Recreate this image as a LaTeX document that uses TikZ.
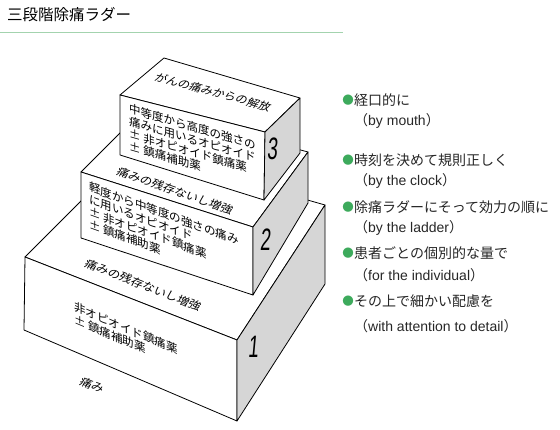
\documentclass[tikz,border=0pt]{standalone}
\usepackage{fontspec}
\newfontfamily\jpfont{Noto Sans CJK JP}
\newfontfamily\enfont{Liberation Sans}
\definecolor{sidegray}{HTML}{D6D6D6}
\definecolor{rulegreen}{HTML}{A3D3AE}
\definecolor{dotgreen}{HTML}{3DAA5C}

\begin{document}
\begin{tikzpicture}[x=1pt,y=-1pt]
\tikzstyle{face}=[draw=black,line width=0.8pt,line join=round,fill=white]
\tikzstyle{side}=[face,fill=sidegray]
\tikzstyle{front}=[font=\jpfont\fontsize{11.5}{12.5}\selectfont,align=left,inner sep=0pt,anchor=north west,transform shape,yslant=-#1]
\tikzstyle{lid}=[font=\jpfont\fontsize{11.5}{12}\selectfont,inner sep=0pt,transform shape,cm={1,-#1,0.45,0.85,(0,0)}]
\tikzstyle{num}=[font=\enfont\fontsize{31}{31}\selectfont,inner sep=0pt,transform shape,xscale=0.6,xslant=0.15]
\tikzstyle{dot}=[text=dotgreen,font=\jpfont\fontsize{11.5}{11.5}\selectfont,inner sep=0pt]
\tikzstyle{item}=[font=\jpfont\fontsize{14}{14}\selectfont,inner sep=0pt,anchor=west,text=black!85]
\tikzstyle{itemen}=[font=\enfont\fontsize{14}{14}\selectfont,inner sep=0pt,anchor=west,text=black!85]
\useasboundingbox (0,0) rectangle (560,430);

% title
\node[font=\jpfont\fontsize{15.5}{15.5}\selectfont,anchor=west,inner sep=0pt] (title) at (7,15) {三段階除痛ラダー};
\coordinate (rule-l) at (0,33);
\coordinate (rule-r) at (343,33);
\draw[rulegreen,line width=1pt] (rule-l) -- (rule-r);

% step 1
\coordinate (one-flt) at (25,257);
\coordinate (one-flb) at (24,330);
\coordinate (one-frb) at (237,421);
\coordinate (one-frt) at (237,340);
\coordinate (one-brt) at (325,205);
\coordinate (one-brb) at (325,284);
\coordinate (one-blt) at (132,150);
\draw[face] (one-flt) -- (one-frt) -- (one-brt) -- (one-blt) -- cycle;
\draw[face] (one-flt) -- (one-frt) -- (one-frb) -- (one-flb) -- cycle;
\draw[side] (one-frt) -- (one-brt) -- (one-brb) -- (one-frb) -- cycle;

% step 2
\coordinate (two-flt) at (81,172);
\coordinate (two-flb) at (81,238);
\coordinate (two-frb) at (253,295);
\coordinate (two-frt) at (253,227);
\coordinate (two-brt) at (308,152);
\coordinate (two-brb) at (308,203);
\coordinate (two-blt) at (145,108);
\draw[face] (two-flt) -- (two-frt) -- (two-brt) -- (two-blt) -- cycle;
\draw[face] (two-flt) -- (two-frt) -- (two-frb) -- (two-flb) -- cycle;
\draw[side] (two-frt) -- (two-brt) -- (two-brb) -- (two-frb) -- cycle;

% step 3
\coordinate (three-flt) at (120,95);
\coordinate (three-flb) at (120,155);
\coordinate (three-frb) at (264,200);
\coordinate (three-frt) at (265,132);
\coordinate (three-brt) at (300,98);
\coordinate (three-brb) at (300,153);
\coordinate (three-blt) at (164,58);
\draw[face] (three-flt) -- (three-frt) -- (three-brt) -- (three-blt) -- cycle;
\draw[face] (three-flt) -- (three-frt) -- (three-frb) -- (three-flb) -- cycle;
\draw[side] (three-frt) -- (three-brt) -- (three-brb) -- (three-frb) -- cycle;

% texts on the faces
\node[lid=0.27] (lid3) at (213,92) {がんの痛みからの解放};
\node[lid=0.35] (lid2) at (175,191) {痛みの残存ないし増強};
\node[lid=0.39] (lid1) at (143,285) {痛みの残存ないし増強};
\node[lid=0.4] (floor) at (92,385) {痛み};
\node[front=0.29] (drug3) at (129,103) {中等度から高度の強さの\\痛みに用いるオピオイド\\± 非オピオイド鎮痛薬\\± 鎮痛補助薬};
\node[front=0.36] (drug2) at (89,181) {軽度から中等度の強さの痛み\\に用いるオピオイド\\± 非オピオイド鎮痛薬\\± 鎮痛補助薬};
\node[front=0.42] (drug1) at (74,301) {非オピオイド鎮痛薬\\± 鎮痛補助薬};
\node[num] (n3) at (273,149) {3};
\node[num] (n2) at (266,240) {2};
\node[num] (n1) at (254,347) {1};

% principles
\node[dot] (d1) at (348,100) {●};
\node[item] (p1) at (354,100) {経口的に};
\node[itemen] (e1) at (354,121) {{\jpfont （}by mouth{\jpfont ）}};
\node[dot] (d2) at (348,160) {●};
\node[item] (p2) at (354,160) {時刻を決めて規則正しく};
\node[itemen] (e2) at (354,181) {{\jpfont （}by the clock{\jpfont ）}};
\node[dot] (d3) at (348,207) {●};
\node[item] (p3) at (354,207) {除痛ラダーにそって効力の順に};
\node[itemen] (e3) at (354,228) {{\jpfont （}by the ladder{\jpfont ）}};
\node[dot] (d4) at (348,253) {●};
\node[item] (p4) at (354,253) {患者ごとの個別的な量で};
\node[itemen] (e4) at (354,275) {{\jpfont （}for the individual{\jpfont ）}};
\node[dot] (d5) at (348,301) {●};
\node[item] (p5) at (354,301) {その上で細かい配慮を};
\node[itemen] (e5) at (354,326) {{\jpfont （}with attention to detail{\jpfont ）}};
\end{tikzpicture}
\end{document}
